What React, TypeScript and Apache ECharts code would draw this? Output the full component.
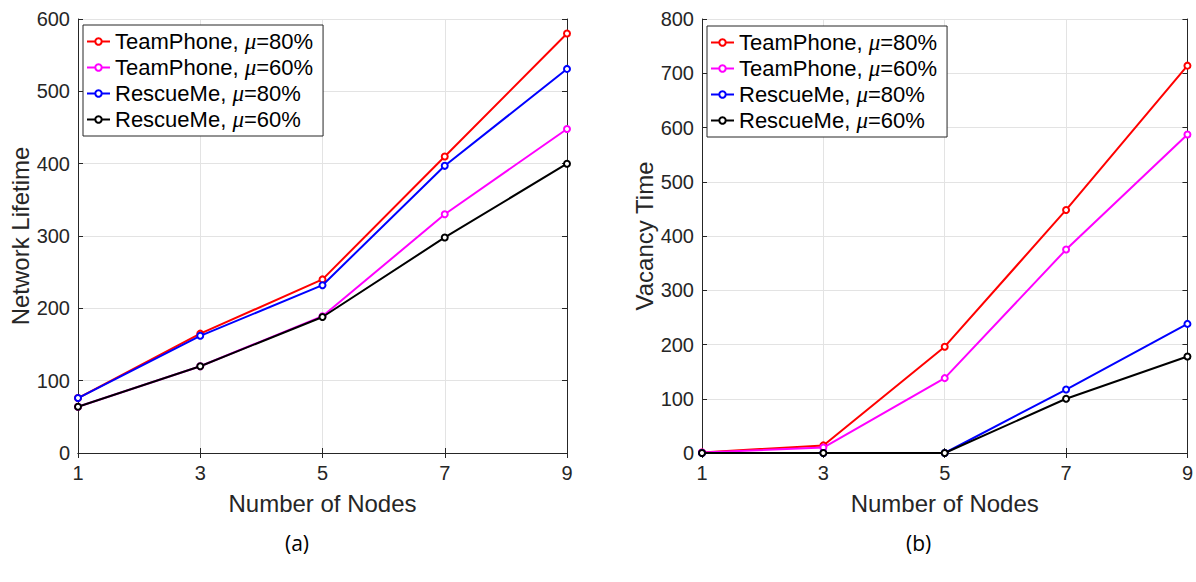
import React, { useEffect, useRef } from "react";
import * as echarts from "echarts";

const nodes = ["1", "3", "5", "7", "9"];
const seriesNames = ["TeamPhone, μ=80%", "TeamPhone, μ=60%", "RescueMe, μ=80%", "RescueMe, μ=60%"];
const seriesColors = ["#ff0000", "#ff00ff", "#0000ff", "#000000"];

const lifeTP80 = [76, 165, 240, 410, 580];
const lifeTP60 = [64, 120, 189, 330, 448];
const lifeRM80 = [76, 162, 232, 397, 531];
const lifeRM60 = [64, 120, 188, 298, 400];

const vacTP80 = [1, 14, 196, 448, 714];
const vacTP60 = [1, 10, 138, 375, 587];
const vacRM80 = [0, 0, 0, 117, 238];
const vacRM60 = [0, 0, 0, 100, 178];

const lifeTicks = { min: 0, max: 600, interval: 100 };
const vacTicks = { min: 0, max: 800, interval: 100 };

const FONT = "'Liberation Sans', Arial, sans-serif";
const AX = "#262626";

export default function App() {
  const ref = useRef<HTMLDivElement>(null);
  useEffect(() => {
    if (!ref.current) return;
    const chart = echarts.init(ref.current, null, { renderer: "svg" });

    const grids = [
      { left: 78, right: 629, top: 19, bottom: 129 },
      { left: 702, right: 7, top: 19, bottom: 129 },
    ];

    const xAxes: any[] = [];
    const yAxes: any[] = [];
    const names = ["Network Lifetime", "Vacancy Time"];
    const nameGaps = [43, 46];
    const ticks = [lifeTicks, vacTicks];
    [0, 1].forEach((g) => {
      xAxes.push({
        type: "category",
        data: nodes,
        gridIndex: g,
        boundaryGap: false,
        name: "Number of Nodes",
        nameLocation: "middle",
        nameGap: 38,
        nameTextStyle: { fontSize: 24, fontFamily: FONT, color: AX },
        axisLine: { lineStyle: { color: AX, width: 1 } },
        axisTick: { inside: true, length: 5, lineStyle: { color: AX } },
        axisLabel: { fontSize: 20, fontFamily: FONT, color: AX, margin: 10 },
        splitLine: { show: true, lineStyle: { color: "#e3e3e3", width: 1 } },
      });
      xAxes.push({
        type: "category",
        data: nodes,
        gridIndex: g,
        position: "top",
        boundaryGap: false,
        axisLine: { lineStyle: { color: AX, width: 1 } },
        axisTick: { inside: true, length: 5, lineStyle: { color: AX } },
        axisLabel: { show: false },
        splitLine: { show: false },
      });
      yAxes.push({
        type: "value",
        gridIndex: g,
        ...ticks[g],
        name: names[g],
        nameLocation: "middle",
        nameGap: nameGaps[g],
        nameTextStyle: { fontSize: 24, fontFamily: FONT, color: AX },
        axisLine: { show: true, lineStyle: { color: AX, width: 1 } },
        axisTick: { show: true, inside: true, length: 5, lineStyle: { color: AX } },
        axisLabel: { fontSize: 20, fontFamily: FONT, color: AX, margin: 8 },
        splitLine: { show: true, lineStyle: { color: "#e3e3e3", width: 1 } },
      });
      yAxes.push({
        type: "value",
        gridIndex: g,
        ...ticks[g],
        position: "right",
        axisLine: { show: true, lineStyle: { color: AX, width: 1 } },
        axisTick: { show: true, inside: true, length: 5, lineStyle: { color: AX } },
        axisLabel: { show: false },
        splitLine: { show: false },
      });
    });

    const dataSets = [
      [lifeTP80, lifeTP60, lifeRM80, lifeRM60],
      [vacTP80, vacTP60, vacRM80, vacRM60],
    ];
    const series: any[] = [];
    [0, 1].forEach((g) => {
      dataSets[g].forEach((d, i) => {
        series.push({
          type: "line",
          name: seriesNames[i],
          data: d,
          xAxisIndex: g * 2,
          yAxisIndex: g * 2,
          symbol: "emptyCircle",
          symbolSize: 6,
          lineStyle: { color: seriesColors[i], width: 2 },
          itemStyle: { color: seriesColors[i], borderColor: seriesColors[i], borderWidth: 2 },
          z: 2 + i,
        });
      });
    });

    const legendBase = (left: number, top: number) => ({
      show: true,
      orient: "vertical",
      left,
      top,
      data: seriesNames,
      itemWidth: 23,
      itemHeight: 8,
      itemGap: 3,
      padding: [5, 10, 5, 3],
      borderColor: AX,
      borderWidth: 1,
      backgroundColor: "#ffffff",
      selectedMode: false,
      formatter: (name: string) => {
        const [a, b] = name.split("μ");
        return `{t|${a}}{m|μ}{t|${b}}`;
      },
      textStyle: {
        rich: {
          t: { fontSize: 22, lineHeight: 22, fontFamily: FONT, color: "#000" },
          m: { fontSize: 23, lineHeight: 22, fontFamily: "'Liberation Serif', serif", fontStyle: "italic", color: "#000" },
        },
      },
    });

    chart.setOption({
      animation: false,
      backgroundColor: "#ffffff",
      grid: grids.map((g) => ({ ...g, show: false, containLabel: false })),
      xAxis: xAxes,
      yAxis: yAxes,
      legend: [legendBase(83, 25), legendBase(707, 26)],
      series,
      graphic: [
        {
          type: "text",
          left: 285,
          top: 532,
          style: { text: "(a)", fontSize: 21, fontFamily: "'Open Sans', sans-serif", fill: "#000" },
        },
        {
          type: "text",
          left: 906,
          top: 532,
          style: { text: "(b)", fontSize: 21, fontFamily: "'Open Sans', sans-serif", fill: "#000" },
        },
      ],
    });
    return () => chart.dispose();
  }, []);
  return (
    <div
      ref={ref}
      style={{ position: "fixed", left: 0, top: 0, width: 1196, height: 582 }}
    />
  );
}
